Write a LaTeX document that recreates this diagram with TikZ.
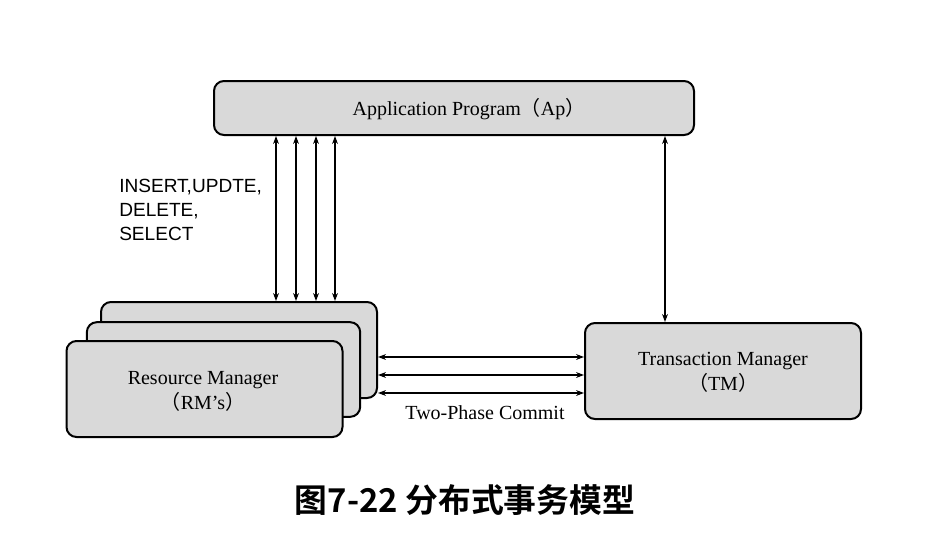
\documentclass[tikz,border=0pt]{standalone}
\usepackage{fontspec}
\setmainfont{Liberation Serif}
\newfontfamily\lsans{Liberation Sans}
\newfontfamily\cjk{Noto Sans CJK SC}
\newfontfamily\cjkb{Noto Sans CJK SC Bold}
\usetikzlibrary{arrows.meta,calc}
\definecolor{boxgray}{RGB}{217,217,217}
\tikzset{
  box/.style={draw=black, line width=1.5pt, fill=boxgray, rounded corners=7.5pt, inner sep=0pt},
  dar/.style={line width=0.8pt, {Stealth[length=6pt,width=4.4pt]}-{Stealth[length=6pt,width=4.4pt]}},
  lbl/.style={font=\fontsize{15pt}{18.75pt}\selectfont, align=center},
}
\begin{document}
\begin{tikzpicture}[x=0.75pt,y=-0.75pt]
\useasboundingbox (0,0) rectangle (934,546);
% Application program
\node[box, minimum width=360pt, minimum height=40.5pt] (ap) at (454,108) {};
\node[lbl] (aptext) at (469,109) {Application Program{\cjk （}Ap{\cjk ）}};
% Resource manager stack
\node[box, minimum width=207pt, minimum height=72pt] (rm3) at (239,350) {};
\node[box, minimum width=205pt, minimum height=71pt] (rm2) at (223.5,369.5) {};
\node[box, minimum width=207pt, minimum height=72pt] (rm1) at (204.5,389) {};
\node[lbl] (rmtext) at (203,391) {Resource Manager\\{\cjk （}RM’s{\cjk ）}};
% Transaction manager
\node[box, minimum width=207pt, minimum height=72pt] (tm) at (723,371) {};
\node[lbl] (tmtext) at (723,372) {Transaction Manager\\{\cjk （}TM{\cjk ）}};
% vertical arrows
\foreach \xx in {276,296,316,335}{
  \draw[dar] (\xx,0 |- ap.south) -- (\xx,0 |- rm3.north);
}
\draw[dar] (665,0 |- ap.south) -- (665,0 |- tm.north);
% horizontal arrows
\foreach \yy in {357,375,393}{
  \draw[dar] (rm3.east |- 0,\yy) -- (tm.west |- 0,\yy);
}
\node[lbl, anchor=center] (tpc) at (485,413) {Two-Phase Commit};
\node[anchor=west, align=left, inner sep=0pt, font=\lsans\fontsize{14.3pt}{18pt}\selectfont] (sql) at (119,210) {INSERT,UPDTE,\\DELETE,\\SELECT};
\node[font=\cjkb\fontsize{24.6pt}{28pt}\selectfont] (cap) at (465,500) {图7-22 分布式事务模型};
\end{tikzpicture}
\end{document}
